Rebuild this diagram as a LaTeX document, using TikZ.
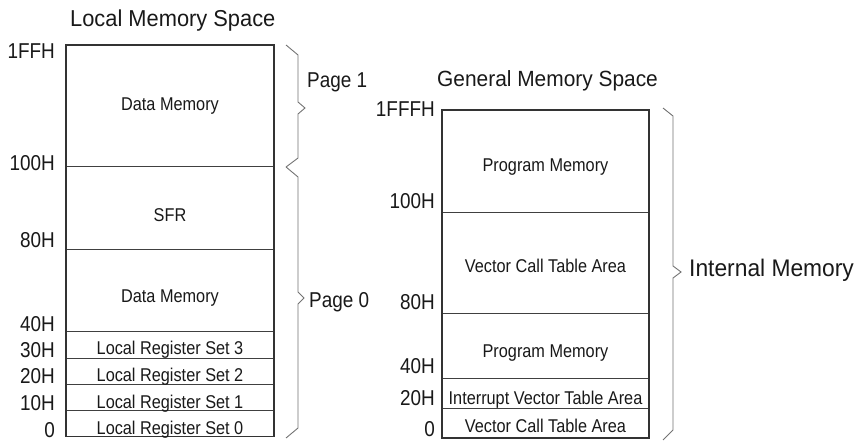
\documentclass[tikz,border=0pt]{standalone}
\usepackage{fontspec}
\setmainfont{Liberation Sans}[FakeStretch=0.88]
\newfontfamily\titlefont{Liberation Sans}[FakeStretch=0.95]
\begin{document}
\begin{tikzpicture}[x=1pt,y=-1pt,
  outer/.style={draw=black!80,line width=1.3pt},
  cellline/.style={draw=black!75,line width=0.7pt},
  brace/.style={draw=black!55,line width=0.9pt,line join=miter},
  celltext/.style={inner sep=0pt,anchor=base,font=\fontsize{18.5}{20}\selectfont,text=black!90},
  addr/.style={inner sep=0pt,anchor=base east,font=\fontsize{21.5}{24}\selectfont,text=black!90},
  pagelabel/.style={inner sep=0pt,anchor=base west,font=\fontsize{21.5}{24}\selectfont,text=black!90},
  title/.style={inner sep=0pt,anchor=base west,font=\titlefont\fontsize{23}{26}\selectfont,text=black!90}]
\useasboundingbox (0,0) rectangle (859,443);
\fill[white] (0,0) rectangle (859,443);

% ---------- Local memory space ----------
\node[title] (ltitle) at (70,27) {Local Memory\hspace{6pt}Space};
\draw[cellline] (66,166) -- (274,166);
\draw[cellline] (66,249) -- (274,249);
\draw[cellline] (66,331.7) -- (274,331.7);
\draw[cellline] (66,358) -- (274,358);
\draw[cellline] (66,384) -- (274,384);
\draw[cellline] (66,410.7) -- (274,410.7);
\draw[outer] (66,45) rectangle (274,436.7);

\node[celltext] (ldm1) at (170,111) {Data Memory};
\node[celltext] (lsfr) at (170,222) {SFR};
\node[celltext] (ldm2) at (170,303) {Data Memory};
\node[celltext] (lr3) at (170,355) {Local Register Set 3};
\node[celltext] (lr2) at (170,381.5) {Local Register Set 2};
\node[celltext] (lr1) at (170,408) {Local Register Set 1};
\node[celltext] (lr0) at (170,434) {Local Register Set 0};

\node[addr] (la1) at (55,59) {1FFH};
\node[addr] (la2) at (55,171) {100H};
\node[addr] (la3) at (55,248) {80H};
\node[addr] (la4) at (55,332) {40H};
\node[addr] (la5) at (55,357) {30H};
\node[addr] (la6) at (55,383) {20H};
\node[addr] (la7) at (55,410) {10H};
\node[addr] (la8) at (55,437) {0};

% braces
\draw[brace] (286,45) -- (298,55) -- (298,102) -- (305,108) -- (298,114) -- (298,158) -- (286,167);
\draw[brace] (286,167) -- (298,177) -- (298,292) -- (304,298) -- (298,304) -- (298,428) -- (286,438);
\node[pagelabel] (p1) at (307,88) {Page 1};
\node[pagelabel] (p0) at (309,308) {Page 0};

% ---------- General memory space ----------
\node[title,font=\titlefont\fontsize{22}{25}\selectfont] (gtitle) at (437,86.7) {General Memory Space};
\draw[cellline] (442,212) -- (649,212);
\draw[cellline] (442,313) -- (649,313);
\draw[cellline] (442,378) -- (649,378);
\draw[cellline] (442,408) -- (649,408);
\draw[outer] (442,110) rectangle (649,438);

\node[celltext] (gpm1) at (545.5,172) {Program Memory};
\node[celltext] (gvc1) at (545.5,273) {Vector Call Table Area};
\node[celltext] (gpm2) at (545.5,358) {Program Memory};
\node[celltext] (giv) at (545.5,404) {Interrupt Vector Table Area};
\node[celltext] (gvc0) at (545.5,432) {Vector Call Table Area};

\node[addr] (ga1) at (435,116.7) {1FFFH};
\node[addr] (ga2) at (435,209) {100H};
\node[addr] (ga3) at (435,310) {80H};
\node[addr] (ga4) at (435,373.3) {40H};
\node[addr] (ga5) at (435,405.7) {20H};
\node[addr] (ga6) at (435,436.7) {0};

\draw[brace] (663,108) -- (673,116) -- (673,266) -- (681,272) -- (673,278) -- (673,430) -- (663,440);
\node[title,font=\titlefont\fontsize{24}{26}\selectfont] (im) at (689,277) {Internal Memory};
\end{tikzpicture}
\end{document}
